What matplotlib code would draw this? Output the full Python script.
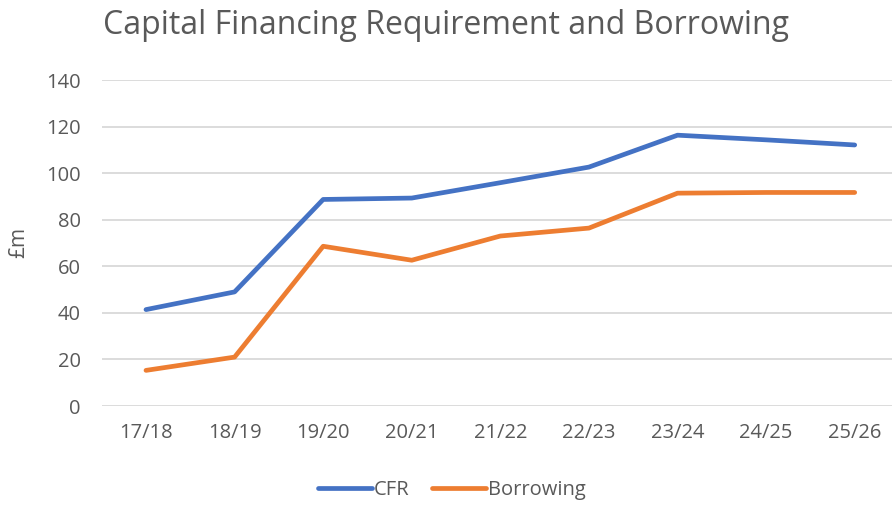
import matplotlib
matplotlib.use("Agg")
import matplotlib.pyplot as plt

categories = ["17/18", "18/19", "19/20", "20/21", "21/22", "22/23", "23/24", "24/25", "25/26"]
cfr = [41.4, 49.0, 88.7, 89.3, 95.9, 102.6, 116.3, 114.3, 112.1]
borrowing = [15.3, 21.0, 68.6, 62.6, 73.0, 76.4, 91.4, 91.7, 91.7]
yticks = [0, 20, 40, 60, 80, 100, 120, 140]

plt.rcParams['font.family'] = ['Open Sans', 'DejaVu Sans']
text_color = "#595959"

W, H = 892, 505
fig = plt.figure(figsize=(W / 100, H / 100), dpi=100)
left, right, bottom, top = 101.7, 899, 406, 80
ax = fig.add_axes([left / W, 1 - bottom / H, (right - left) / W, (bottom - top) / H])

x = list(range(len(categories)))
ax.plot(x, cfr, color="#4472C4", lw=3.4, solid_capstyle="round", solid_joinstyle="round", label="CFR")
ax.plot(x, borrowing, color="#ED7D31", lw=3.4, solid_capstyle="round", solid_joinstyle="round", label="Borrowing")

ax.set_xlim(-0.5, len(categories) - 0.5)
ax.set_ylim(0, 140)
ax.set_yticks(yticks)
ax.set_xticks(x)
ax.set_xticklabels(categories)
ax.grid(axis="y", color="#D9D9D9", lw=1.3)
ax.set_axisbelow(True)
for s in ax.spines.values():
    s.set_visible(False)
ax.tick_params(axis="both", length=0, colors=text_color, labelsize=14.5)
ax.tick_params(axis="y", pad=15)
ax.tick_params(axis="x", pad=12)
ax.set_ylabel("£m", color=text_color, fontsize=15, labelpad=12)

fig.text(0.5, 1 - 25 / H, "Capital Financing Requirement and Borrowing", ha="center", va="center",
         fontsize=23, color=text_color)

leg = fig.legend(loc="center", bbox_to_anchor=(452 / W, 1 - 490 / H), ncol=2, frameon=False,
                 fontsize=14.5, handlelength=2.7, handletextpad=0.1, columnspacing=1.1)
for t in leg.get_texts():
    t.set_color(text_color)

fig.savefig("out.png", dpi=100)
